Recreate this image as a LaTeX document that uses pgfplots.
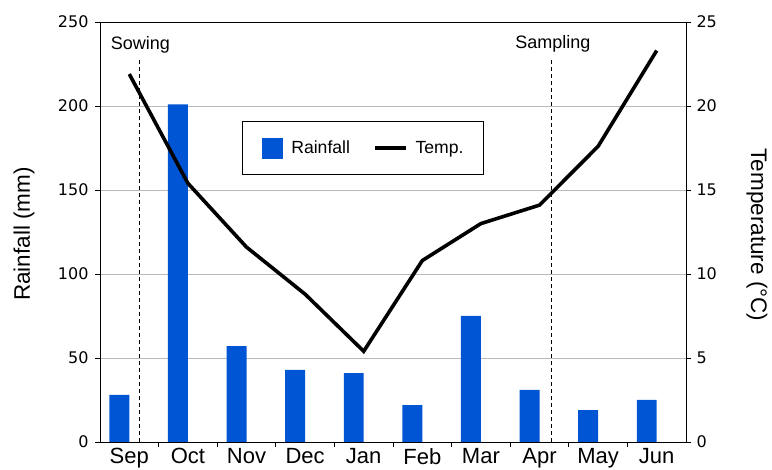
\documentclass[border=0pt]{standalone}
\usepackage{pgfplots}
\pgfplotsset{compat=1.18}
\usepackage{pgfplotstable}
\usepackage{fontspec}
\setmainfont{Liberation Sans}
\newfontfamily\dejavu{DejaVu Sans}
\definecolor{rainblue}{RGB}{0,85,212}

\pgfplotstableread{
x rain temp
0 28 21.9
1 201 15.4
2 57 11.6
3 43 8.8
4 41 5.4
5 22 10.8
6 75 13.0
7 31 14.1
8 19 17.6
9 25 23.3
}\climate

\pgfplotsset{
  every axis/.append style={
    scale only axis, width=586pt, height=420pt,
    xmin=-0.5, xmax=9.5,
    tick align=outside,
    major tick length=5pt, minor tick length=5pt,
    tick style={black, line width=0.8pt},
    axis line style={black, line width=0.9pt},
    /pgf/number format/assume math mode=true,
    y tick label style={font=\dejavu\fontsize{16}{19}\selectfont},
  }
}

\begin{document}
\begin{tikzpicture}
\begin{axis}[
  ymin=0, ymax=250,
  ytick={0,50,...,250},
  ytick pos=left,
  y tick label style={xshift=-3pt},
  xtick={0,...,9},
  xticklabels={Sep,Oct,Nov,Dec,Jan,Feb,Mar,Apr,May,Jun},
  x tick label style={font=\fontsize{22}{26}\selectfont, inner sep=0pt, anchor=north, yshift=-1pt},
  xtick pos=bottom,
  major x tick style={draw=none},
  minor xtick={0.5,1.5,...,8.5},
  ymajorgrids, grid style={gray!55, line width=0.8pt},
]
  \addplot[ybar, fill=rainblue, draw=none, bar width=0.34, bar shift=-0.17]
    table[x=x, y=rain] {\climate};
  \addplot[black, line width=1.2pt, dash pattern=on 4pt off 3pt] coordinates {(0.18,0) (0.18,228)};
  \addplot[black, line width=1.2pt, dash pattern=on 4pt off 3pt] coordinates {(7.21,0) (7.21,228)};
  \node[font=\fontsize{18}{21}\selectfont, anchor=base] at (axis cs:0.19,233.5) {Sowing};
  \node[font=\fontsize{18}{21}\selectfont, anchor=base] at (axis cs:7.23,234.5) {Sampling};
  \coordinate (bl) at (rel axis cs:0,0);
  \coordinate (tr) at (rel axis cs:1,1);
  \coordinate (ml) at (rel axis cs:0,0.5);
  \coordinate (mr) at (rel axis cs:1,0.5);
\end{axis}
\begin{axis}[
  ymin=0, ymax=25,
  ytick={0,5,...,25},
  axis y line*=right,
  axis x line=none,
  y tick label style={xshift=2pt},
  legend image code/.code={\draw[#1] (0pt,0pt) -- (31pt,0pt);},
  legend style={at={(0.2423,0.764)}, anchor=north west, draw=black, line width=0.9pt,
    font=\fontsize{17.6}{21}\selectfont, inner xsep=20pt, inner ysep=16pt,
    nodes={inner sep=0pt},
    /tikz/every odd column/.style={column sep=8pt},
    /tikz/every even column/.style={column sep=23pt}},
  legend columns=2,
]
  \addlegendimage{legend image code/.code={\fill[rainblue] (0pt,-10pt) rectangle (20pt,10pt);}}
  \addlegendentry{Rainfall}
  \addplot[black, line width=3.6pt, mark=none] table[x=x, y=temp] {\climate};
  \addlegendentry{Temp.}
\end{axis}
\node[rotate=90, font=\fontsize{22.5}{26}\selectfont] at ([xshift=-76pt,yshift=-2pt]ml) {Rainfall (mm)};
\node[rotate=-90, font=\fontsize{22.5}{26}\selectfont] at ([xshift=71pt,yshift=-3pt]mr) {Temperature (°C)};
\pgfresetboundingbox
\path ([shift={(-100pt,-28pt)}]bl) rectangle ([shift={(86pt,22pt)}]tr);
\end{tikzpicture}
\end{document}
